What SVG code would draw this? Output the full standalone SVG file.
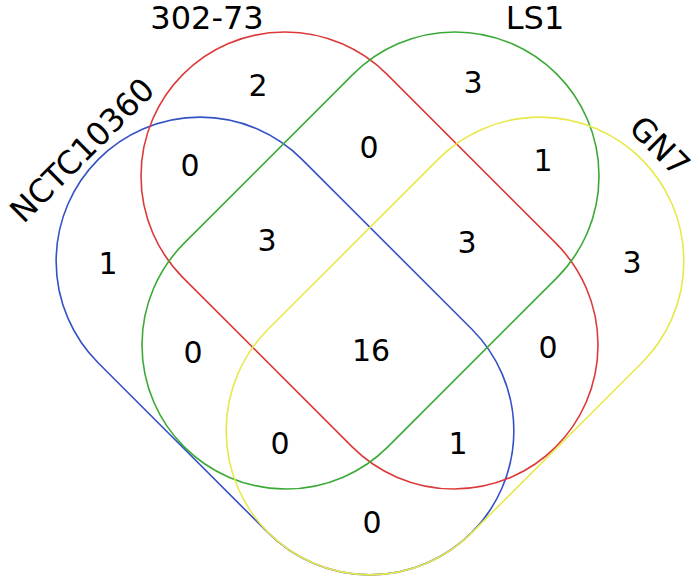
<svg xmlns="http://www.w3.org/2000/svg" width="700" height="578" viewBox="0 0 700 578">
<style>
.set{fill:none;stroke-width:1.6}
.lbl{font-family:"DejaVu Sans",sans-serif;font-size:32px;fill:#000;text-anchor:middle}
.num{font-family:"DejaVu Sans",sans-serif;font-size:30px;fill:#000;text-anchor:middle}
</style>
<rect width="700" height="578" fill="#fff"/>
<g id="set-NCTC10360">
<rect class="set" stroke="#3551c6" x="-264" y="-144" width="528" height="288" rx="144" ry="144" transform="translate(285,346) rotate(45)"/>
<text class="lbl" transform="translate(90,158) rotate(-45)">NCTC10360</text>
</g>
<g id="set-302-73">
<rect class="set" stroke="#dc3a3a" x="-263.5" y="-144" width="527" height="288" rx="144" ry="144" transform="translate(369.5,260.5) rotate(45)"/>
<text class="lbl" x="207" y="29">302-73</text>
</g>
<g id="set-LS1">
<rect class="set" stroke="#3aaa35" x="-263.5" y="-144" width="527" height="288" rx="144" ry="144" transform="translate(370.5,260.5) rotate(-45)"/>
<text class="lbl" x="535" y="29">LS1</text>
</g>
<g id="set-GN7">
<rect class="set" stroke="#e8e84a" x="-264" y="-144" width="528" height="288" rx="144" ry="144" transform="translate(455,346) rotate(-45)"/>
<text class="lbl" transform="translate(652,154) rotate(45)">GN7</text>
</g>
<g id="connectors"></g>
<g id="counts">
<text class="num" x="258" y="96">2</text>
<text class="num" x="473" y="93">3</text>
<text class="num" x="190" y="176">0</text>
<text class="num" x="369" y="158">0</text>
<text class="num" x="543" y="171">1</text>
<text class="num" x="108" y="274">1</text>
<text class="num" x="267" y="251">3</text>
<text class="num" x="467" y="253">3</text>
<text class="num" x="632" y="273">3</text>
<text class="num" x="193" y="363">0</text>
<text class="num" x="371" y="361">16</text>
<text class="num" x="548" y="358">0</text>
<text class="num" x="280" y="454">0</text>
<text class="num" x="458" y="454">1</text>
<text class="num" x="372" y="533">0</text>
</g>
</svg>
